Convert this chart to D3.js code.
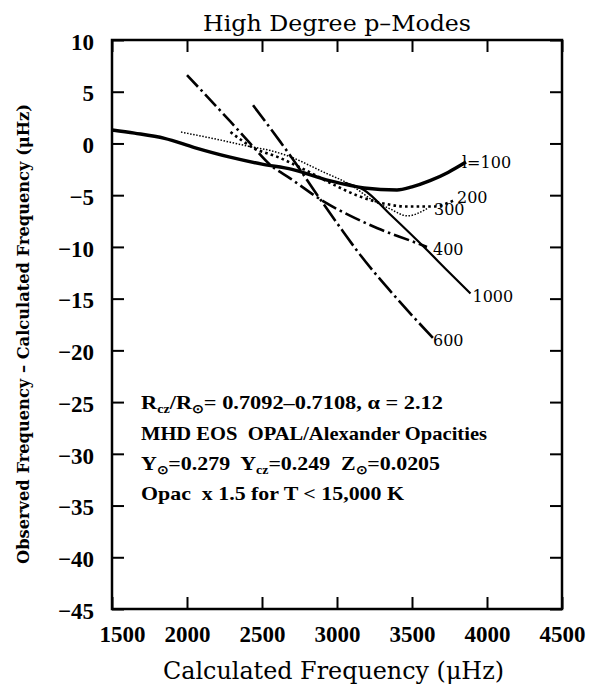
<!DOCTYPE html>
<html><head><meta charset="utf-8">
<script src="https://cdn.jsdelivr.net/npm/d3@7"></script>
<style>body{margin:0;background:#fff}svg{display:block}</style>
</head><body><svg id="c" width="590" height="688"></svg>
<script>
// axis ticks
const freqTicks = [1500, 2000, 2500, 3000, 3500, 4000, 4500];
const devTicks = [10, 5, 0, -5, -10, -15, -20, -25, -30, -35, -40, -45];
// series: [calculated frequency (uHz), observed - calculated (uHz)]
const l100 = [[1500,1.3],[1650,1.0],[1850,0.5],[2050,-0.4],[2280,-1.3],[2500,-2.0],[2700,-2.5],[2950,-3.6],[3180,-4.3],[3400,-4.5],[3500,-4.2],[3620,-3.6],[3740,-2.8],[3860,-1.8]];
const l200 = [[2290,1.1],[2440,-0.4],[2620,-1.4],[2780,-2.5],[2980,-4.0],[3130,-5.0],[3310,-5.8],[3470,-6.1],[3640,-6.1],[3780,-5.5]];
const l300 = [[1960,1.1],[2200,0.4],[2420,-0.3],[2560,-0.7],[2690,-1.3],[2900,-2.7],[3090,-4.0],[3240,-5.5],[3350,-6.3],[3470,-7.0],[3600,-6.3]];
const l400 = [[2000,6.6],[2290,2.1],[2440,-0.3],[2550,-2.0],[2690,-3.4],[2910,-5.6],[3090,-7.0],[3270,-8.2],[3490,-9.4],[3600,-10.0]];
const l600 = [[2440,3.7],[2620,0.2],[2700,-1.4],[2850,-4.6],[3040,-8.5],[3130,-10.3],[3400,-15.0],[3640,-18.8]];
const l1000 = [[3050,-3.8],[3180,-4.5],[3350,-6.8],[3600,-10.3],[3730,-12.2],[3890,-14.5]];
const seriesLabels = ["l=100", "200", "300", "400", "600", "1000"];
const titleText = "High Degree p\u2013Modes";
const xTitle = "Calculated Frequency (\u03bcHz)";
const yTitle = "Observed Frequency \u2013 Calculated Frequency (\u03bcHz)";

const svg = d3.select("#c");
const M = {l:112, r:562, t:40, b:609};
const x = d3.scaleLinear().domain([1500,4500]).range([M.l, M.r]);
const y = d3.scaleLinear().domain([10,-45]).range([M.t, M.b]);

const series = [
  {name:seriesLabels[0], data:l100, w:3.4, dash:null, dx:-4, dy:0},
  {name:seriesLabels[1], data:l200, w:2.6, dash:"2.6,3.2", dx:3, dy:-3},
  {name:seriesLabels[2], data:l300, w:1.5, dash:"1.5,1.6", dx:7, dy:1},
  {name:seriesLabels[3], data:l400, w:2.6, dash:"16,4,2.5,4", dx:6, dy:3},
  {name:seriesLabels[4], data:l600, w:2.6, dash:"20,4,2.5,4", dx:0, dy:3},
  {name:seriesLabels[5], data:l1000, w:2.2, dash:null, dx:2, dy:3}
];

const line = d3.line().x(d=>x(d[0])).y(d=>y(d[1])).curve(d3.curveMonotoneX);
const g = svg.append("g");
series.forEach(s=>{
  g.append("path").attr("d", line(s.data)).attr("fill","none").attr("stroke","#000")
   .attr("stroke-width", s.w).attr("stroke-dasharray", s.dash).attr("stroke-linejoin","round");
  const last = s.data[s.data.length-1];
  g.append("text").attr("x", x(last[0])+s.dx).attr("y", y(last[1])+s.dy)
   .attr("dominant-baseline","central").attr("font-family","DejaVu Serif").attr("font-size",16)
   .text(s.name);
});

// frame
svg.append("rect").attr("x",M.l).attr("y",M.t).attr("width",M.r-M.l).attr("height",M.b-M.t)
  .attr("fill","none").attr("stroke","#000").attr("stroke-width",2.5);

const tickFont = g => g.selectAll("text").attr("font-family","Liberation Serif").attr("font-weight","bold").attr("font-size",23).attr("fill","#000");
const fmt = d3.format("d");

const xb = svg.append("g").attr("transform",`translate(0,${M.b})`)
  .call(d3.axisBottom(x).tickValues(freqTicks).tickSizeInner(-12).tickSizeOuter(0).tickPadding(17).tickFormat(fmt));
xb.call(tickFont);
xb.selectAll(".tick").filter(d=>d===1500).select("text").attr("dx",10);
const xt = svg.append("g").attr("transform",`translate(0,${M.t})`)
  .call(d3.axisTop(x).tickValues(freqTicks).tickSizeInner(-12).tickSizeOuter(0).tickFormat(""));
const yl = svg.append("g").attr("transform",`translate(${M.l},0)`)
  .call(d3.axisLeft(y).tickValues(devTicks).tickSizeInner(-12).tickSizeOuter(0).tickPadding(18).tickFormat(fmt));
yl.call(tickFont);
yl.selectAll("text").attr("dy","0.4em");
const yr = svg.append("g").attr("transform",`translate(${M.r},0)`)
  .call(d3.axisRight(y).tickValues(devTicks).tickSizeInner(-12).tickSizeOuter(0).tickFormat(""));
[xb,xt,yl,yr].forEach(a=>{a.select(".domain").remove(); a.selectAll("line").attr("stroke","#000").attr("stroke-width",2);});

// titles
svg.append("text").attr("x",(M.l+M.r)/2).attr("y",31).attr("text-anchor","middle")
  .attr("font-family","DejaVu Serif").attr("font-size",22).attr("textLength",268).attr("lengthAdjust","spacingAndGlyphs").text(titleText);
svg.append("text").attr("x",163).attr("y",679)
  .attr("font-family","DejaVu Serif").attr("font-size",24).attr("textLength",341).attr("lengthAdjust","spacingAndGlyphs").text(xTitle);
svg.append("text").attr("transform","translate(29,334) rotate(-90)").attr("text-anchor","middle")
  .attr("font-family","DejaVu Serif").attr("font-weight","bold").attr("font-size",16)
  .attr("textLength",460).attr("lengthAdjust","spacingAndGlyphs").text(yTitle);

// annotation
const ann = [
  {y:409, w:302, parts:[["R"],["cz",1],["/R"],["\u2299",1],["= 0.7092\u20130.7108, \u03b1 = 2.12"]]},
  {y:440, w:346, parts:[["MHD EOS  OPAL/Alexander Opacities"]]},
  {y:470, w:299, parts:[["Y"],["\u2299",1],["=0.279  Y"],["cz",1],["=0.249  Z"],["\u2299",1],["=0.0205"]]},
  {y:500, w:263, parts:[["Opac  x 1.5 for T < 15,000 K"]]}
];
ann.forEach(a=>{
  const t = svg.append("text").attr("x",141).attr("y",a.y).attr("font-family","Liberation Serif")
    .attr("font-weight","bold").attr("font-size",19).attr("textLength",a.w).attr("lengthAdjust","spacingAndGlyphs")
    .style("white-space","pre");
  let sub = false;
  a.parts.forEach(p=>{
    const ts = t.append("tspan").text(p[0]);
    if (p[1]) { ts.attr("dy", sub?0:4).attr("font-size",12); sub = true; }
    else { if (sub) ts.attr("dy",-4); sub = false; }
  });
});
</script></body></html>
